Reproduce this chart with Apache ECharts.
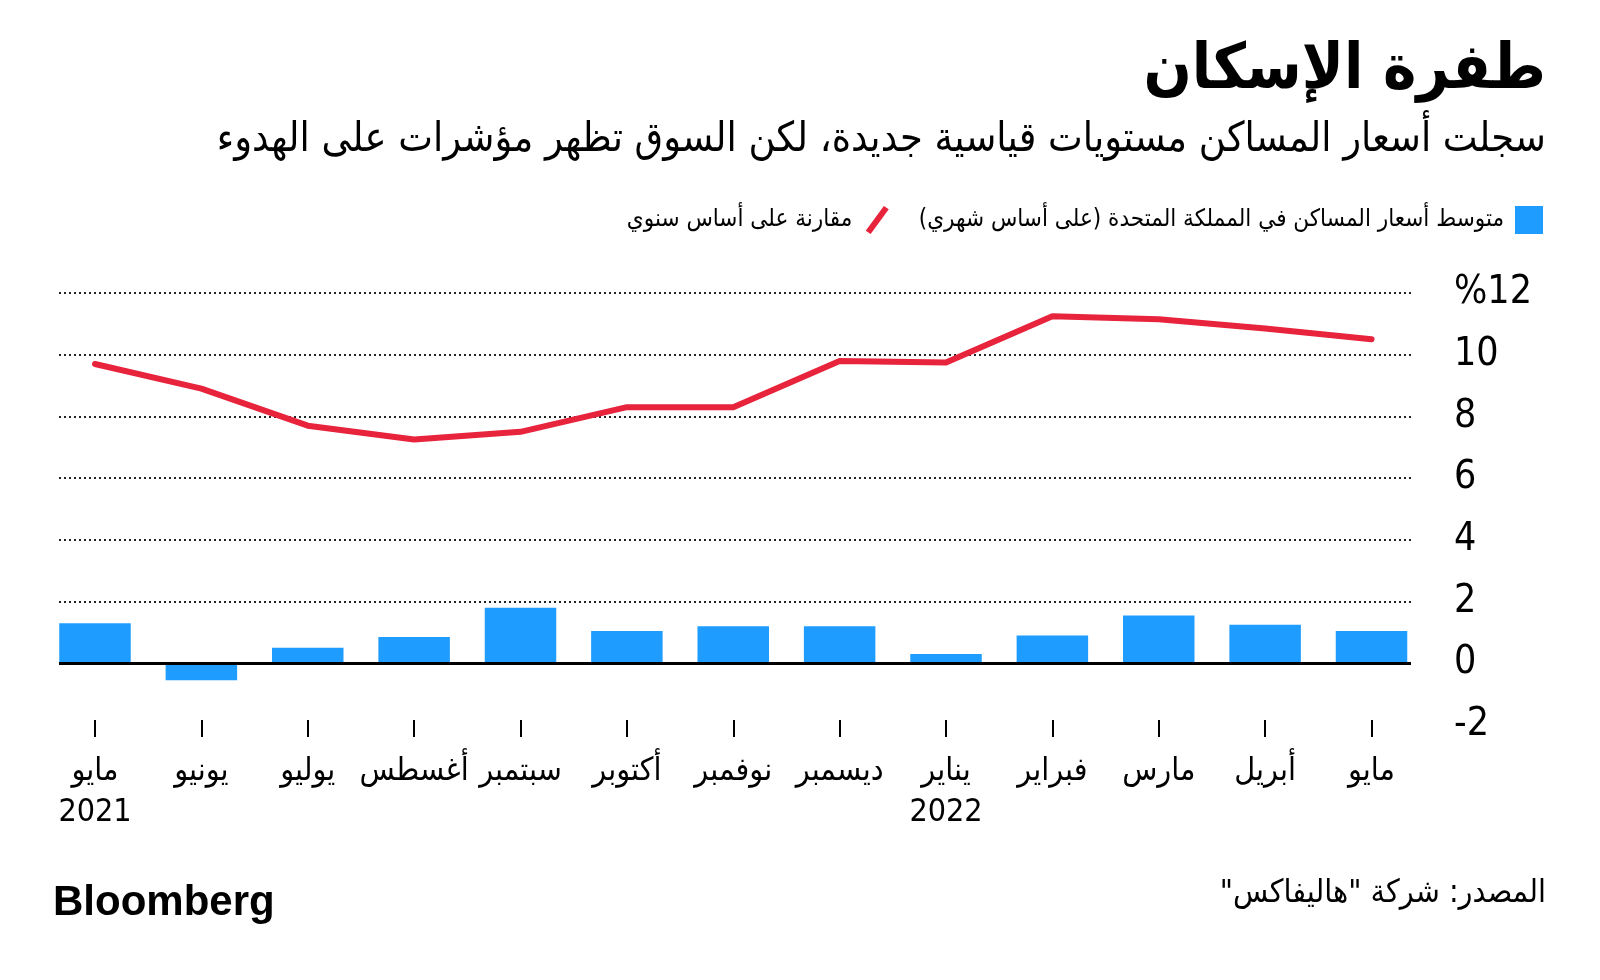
<!DOCTYPE html>
<html>
<head>
<meta charset="utf-8">
<script src="https://cdn.jsdelivr.net/npm/echarts@6/dist/echarts.min.js"></script>
<style>
  html, body { margin: 0; padding: 0; background: #fff; }
  #chart { width: 1600px; height: 980px; }
</style>
</head>
<body>
<div id="chart"></div>
<script>
// الأشهر من مايو 2021 إلى مايو 2022
var months = ['مايو', 'يونيو', 'يوليو', 'أغسطس', 'سبتمبر', 'أكتوبر', 'نوفمبر', 'ديسمبر', 'يناير', 'فبراير', 'مارس', 'أبريل', 'مايو']
var years = ['2021', '', '', '', '', '', '', '', '2022', '', '', '', '']
// التغير الشهري (%)
var monthly = [1.3, -0.55, 0.5, 0.85, 1.8, 1.05, 1.2, 1.2, 0.3, 0.9, 1.55, 1.25, 1.05]
// التغير السنوي (%)
var yearly = [9.7, 8.9, 7.7, 7.25, 7.5, 8.3, 8.3, 9.8, 9.75, 11.25, 11.15, 10.85, 10.5]
var yTicks = [-2, 0, 2, 4, 6, 8, 10, 12]

var RLM = '\u200F'
var barName = 'متوسط أسعار المساكن في المملكة المتحدة (على أساس شهري)' + RLM
var lineName = 'مقارنة على أساس سنوي'
var arFont = '"DejaVu Sans Condensed", "DejaVu Sans", sans-serif'
var numFont = '"Liberation Sans Narrow", "DejaVu Sans Condensed", sans-serif'

var myChart = echarts.init(document.getElementById('chart'))

myChart.setOption({
  backgroundColor: '#ffffff',
  animation: false,
  graphic: [
    {
      type: 'text',
      right: 54,
      top: 40,
      style: {
        text: 'طفرة الإسكان',
        fontFamily: arFont,
        fontWeight: 'bold',
        fontSize: 63,
        fill: '#000',
      },
    },
    {
      type: 'text',
      right: 54,
      top: 120,
      style: {
        text: 'سجلت أسعار المساكن مستويات قياسية جديدة، لكن السوق تظهر مؤشرات على الهدوء',
        fontFamily: arFont,
        fontSize: 41,
        fill: '#000',
      },
    },
    {
      type: 'text',
      left: 53,
      top: 882,
      style: {
        text: 'Bloomberg',
        fontFamily: '"Liberation Sans", Arial, sans-serif',
        fontWeight: 'bold',
        fontSize: 42,
        fill: '#000',
      },
    },
    {
      type: 'text',
      right: 54,
      top: 878,
      style: {
        text: 'المصدر: شركة "هاليفاكس"' + RLM,
        fontFamily: arFont,
        fontSize: 32,
        fill: '#000',
      },
    },
  ],
  legend: {
    right: 52,
    top: 201,
    align: 'right',
    itemWidth: 28,
    itemHeight: 28,
    itemGap: 30,
    selectedMode: false,
    textStyle: {
      fontFamily: arFont,
      fontSize: 24,
      color: '#000',
      padding: [0, 6, 0, 0],
    },
    data: [
      { name: lineName, icon: 'path://M0,30 L22,0 L28,4 L6,34 Z', itemStyle: { color: '#e8233c' } },
      { name: barName, icon: 'rect', itemStyle: { color: '#1e9cff' } },
    ],
  },
  grid: [
    // شبكة الخلفية (خطوط منقطة ومحور القيم)
    { left: 59, right: 189, top: 293, bottom: 255, outerBoundsMode: 'none' },
    // شبكة السلاسل
    { left: 95, right: 228.5, top: 293, bottom: 255, outerBoundsMode: 'none' },
  ],
  xAxis: [
    { gridIndex: 0, type: 'value', min: 0, max: 1, show: false },
    {
      gridIndex: 1,
      type: 'category',
      boundaryGap: false,
      data: months,
      position: 'bottom',
      offset: -5,
      axisLine: { show: false, onZero: false },
      axisTick: { show: true, length: 17, lineStyle: { color: '#000', width: 2 } },
      axisLabel: {
        margin: 31,
        interval: 0,
        fontFamily: arFont,
        fontSize: 32,
        color: '#000',
        lineHeight: 41,
        formatter: function (val, i) {
          return years[i] ? val + '\n' + years[i] : val
        },
      },
      splitLine: { show: false },
    },
  ],
  yAxis: [
    {
      gridIndex: 0,
      type: 'value',
      position: 'right',
      min: yTicks[0],
      max: yTicks[yTicks.length - 1],
      interval: 2,
      axisLine: { show: false },
      axisTick: { show: false },
      axisLabel: {
        margin: 43,
        fontFamily: numFont,
        fontSize: 39,
        color: '#000',
        formatter: function (v) {
          return v === yTicks[yTicks.length - 1] ? '%' + v : String(v)
        },
      },
      splitLine: {
        show: true,
        showMinLine: false,
        lineStyle: { color: '#222', width: 2, type: [2, 3] },
      },
    },
    {
      gridIndex: 1,
      type: 'value',
      min: yTicks[0],
      max: yTicks[yTicks.length - 1],
      interval: 2,
      show: false,
      splitLine: { show: false },
    },
  ],
  series: [
    {
      // خط الصفر
      type: 'line',
      xAxisIndex: 0,
      yAxisIndex: 0,
      data: [],
      symbol: 'none',
      silent: true,
      markLine: {
        silent: true,
        symbol: 'none',
        label: { show: false },
        lineStyle: { color: '#000', width: 3, type: 'solid' },
        z: 10,
        data: [{ yAxis: 0 }],
      },
      z: 10,
    },
    {
      name: barName,
      type: 'bar',
      xAxisIndex: 1,
      yAxisIndex: 1,
      barWidth: 71.5,
      clip: false,
      itemStyle: { color: '#1e9cff' },
      data: monthly,
      z: 2,
    },
    {
      name: lineName,
      type: 'line',
      xAxisIndex: 1,
      yAxisIndex: 1,
      symbol: 'none',
      lineStyle: { color: '#e8233c', width: 6, cap: 'round', join: 'round' },
      itemStyle: { color: '#e8233c' },
      data: yearly,
      z: 3,
    },
  ],
})
</script>
</body>
</html>
